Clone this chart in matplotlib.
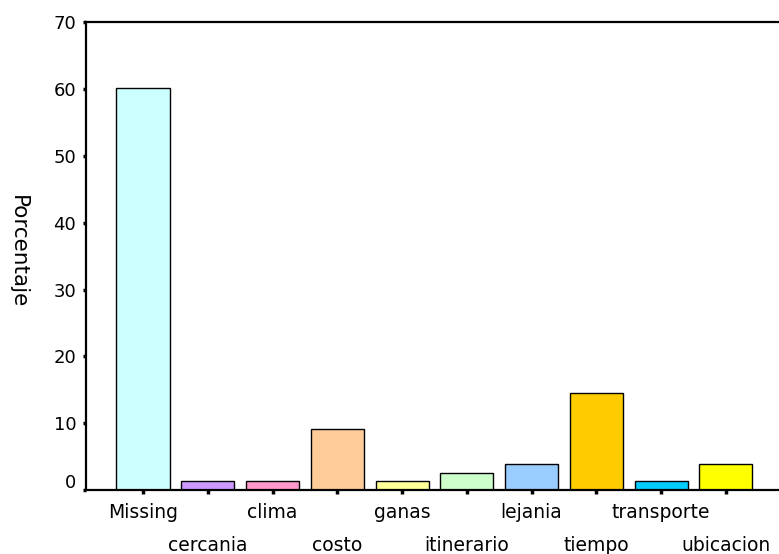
import numpy as np
import matplotlib.pyplot as plt
from matplotlib.transforms import ScaledTranslation

# datos (porcentaje por motivo)
categorias = ['Missing', 'cercania', 'clima', 'costo', 'ganas',
              'itinerario', 'lejania', 'tiempo', 'transporte', 'ubicacion']
porcentaje = [60.2, 1.3, 1.3, 9.1, 1.3, 2.6, 3.9, 14.5, 1.3, 3.9]
colores = ['#CCFFFF', '#CC99FF', '#FF99CC', '#FFCC99', '#FFFF99',
           '#CCFFCC', '#99CCFF', '#FFCC00', '#00CCFF', '#FFFF00']
yticks = [0, 10, 20, 30, 40, 50, 60, 70]

plt.rcParams['font.family'] = ['DejaVu Sans']

fig = plt.figure(figsize=(7.79, 5.54), dpi=100)
ax = fig.add_axes([0.1104, 0.1155, 0.8896, 0.8445])

x = np.arange(len(categorias))
ax.bar(x, porcentaje, width=0.82, color=colores, edgecolor='black', linewidth=1.0)

ax.set_xlim(-0.88, len(categorias) - 1 + 0.82)
ax.set_ylim(0, 70)
ax.set_yticks(yticks)
ax.set_yticklabels([str(v) for v in yticks], fontsize=13)

# etiquetas alternadas en dos filas
ax.set_xticks(x[::2], [categorias[i] for i in x[::2]])
ax.set_xticks(x[1::2], [categorias[i] for i in x[1::2]], minor=True)
ax.tick_params(axis='x', which='both', length=3, width=2.5, direction='out', labelsize=13.5)
ax.tick_params(axis='x', which='major', pad=6.5)
ax.tick_params(axis='x', which='minor', pad=30)
ax.tick_params(axis='y', length=2.5, width=2.5, direction='out', pad=4.5)

# el "0" del eje y aparece un poco mas arriba
lbl0 = ax.get_yticklabels()[0]
lbl0.set_transform(lbl0.get_transform() + ScaledTranslation(0, 0.09, fig.dpi_scale_trans))

for s in ['left', 'bottom', 'top']:
    ax.spines[s].set_linewidth(1.6)
ax.spines['right'].set_visible(False)

ax.set_ylabel('Porcentaje', rotation=270, fontsize=15.5, va='center')
ax.yaxis.set_label_coords(-0.098, 0.509)

fig.savefig('out.png', dpi=100)
